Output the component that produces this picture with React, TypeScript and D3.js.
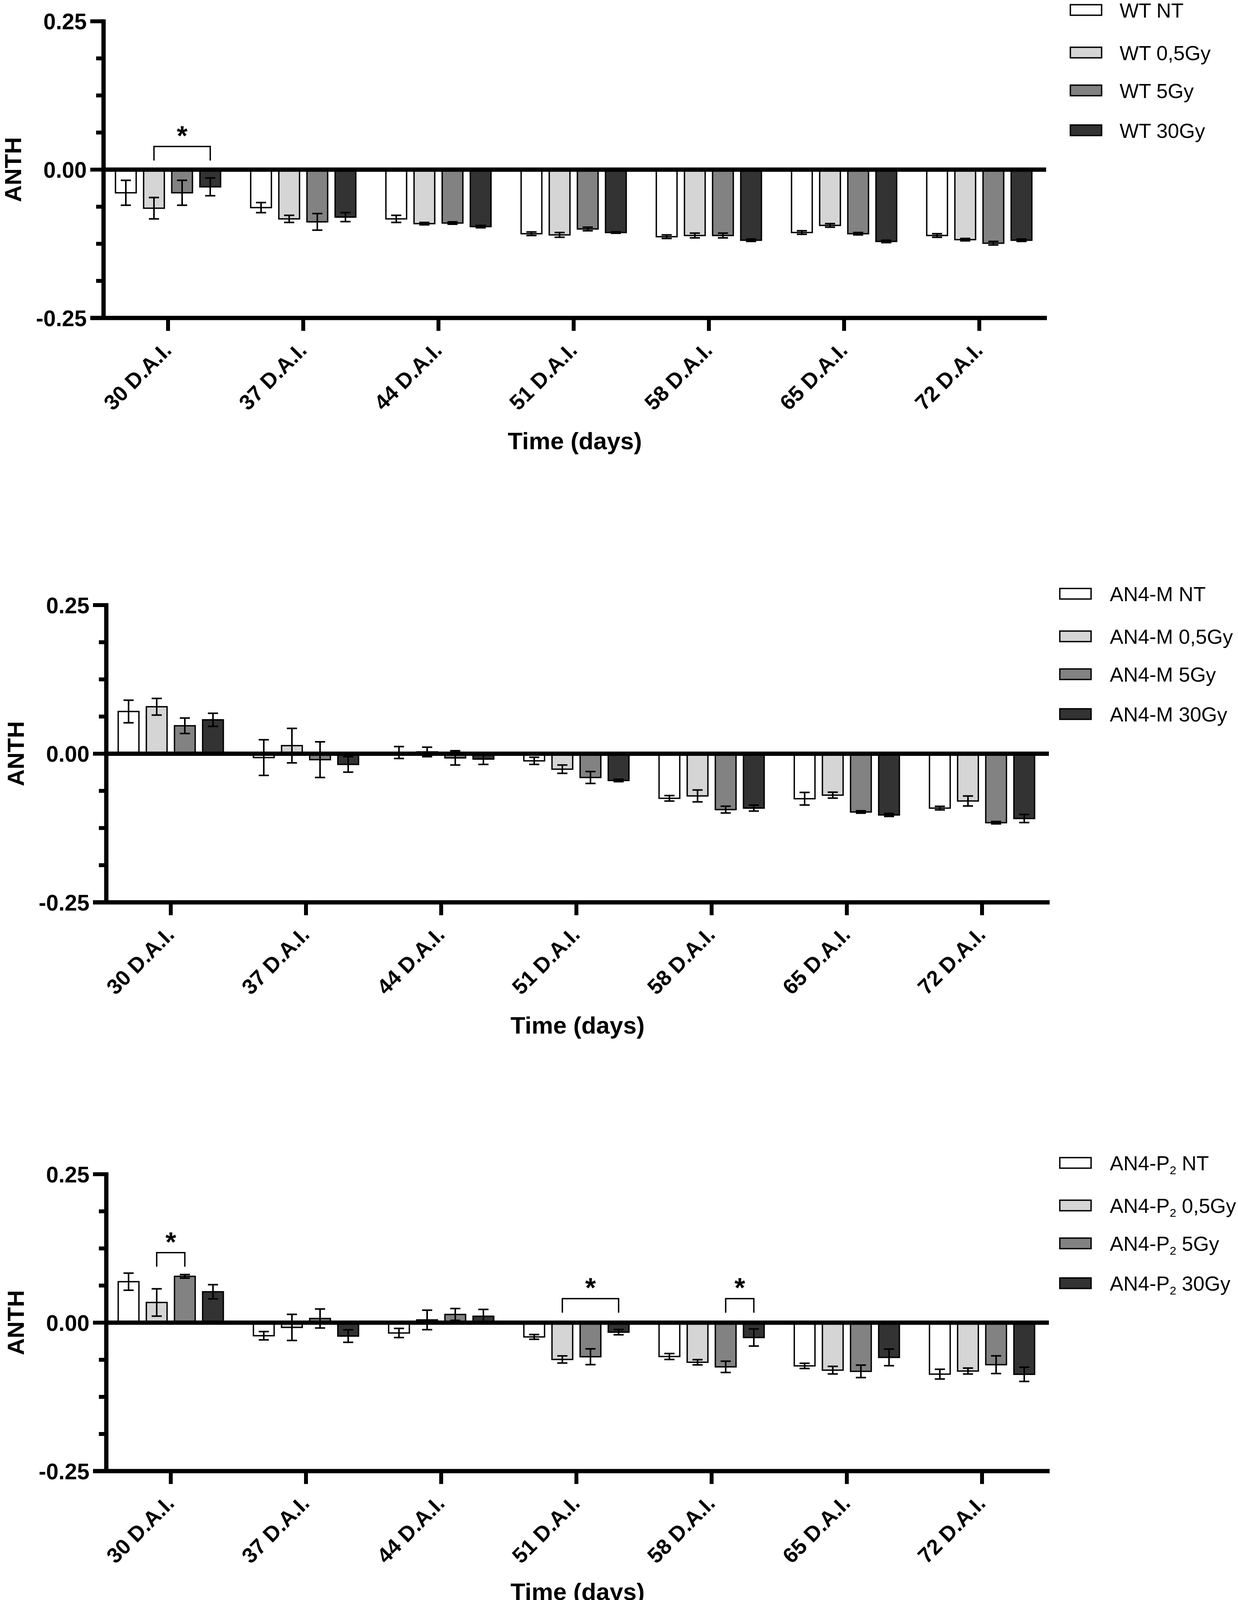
import React from 'react';
import * as d3 from 'd3';

const days = ['30 D.A.I.', '37 D.A.I.', '44 D.A.I.', '51 D.A.I.', '58 D.A.I.', '65 D.A.I.', '72 D.A.I.'];
const doses = ['NT', '0,5Gy', '5Gy', '30Gy'];

// mean ANTH, one row per day, one column per dose
const wtMeans = [
  [-0.039, -0.065, -0.039, -0.029],
  [-0.064, -0.083, -0.088, -0.080],
  [-0.083, -0.091, -0.090, -0.096],
  [-0.108, -0.110, -0.100, -0.106],
  [-0.113, -0.111, -0.111, -0.119],
  [-0.106, -0.094, -0.108, -0.121],
  [-0.111, -0.118, -0.124, -0.119],
];
const wtErrors = [
  [0.021, 0.018, 0.021, 0.015],
  [0.0085, 0.006, 0.014, 0.0076],
  [0.006, 0.002, 0.002, 0.002],
  [0.003, 0.004, 0.003, 0.0012],
  [0.003, 0.004, 0.004, 0.002],
  [0.003, 0.003, 0.002, 0.002],
  [0.003, 0.002, 0.003, 0.002],
];

const an4mMeans = [
  [0.071, 0.079, 0.047, 0.057],
  [-0.0065, 0.0136, -0.010, -0.018],
  [0.002, 0.003, -0.007, -0.009],
  [-0.012, -0.026, -0.040, -0.045],
  [-0.075, -0.071, -0.094, -0.0915],
  [-0.0757, -0.0697, -0.098, -0.103],
  [-0.0915, -0.0795, -0.116, -0.109],
];
const an4mErrors = [
  [0.019, 0.014, 0.013, 0.011],
  [0.030, 0.029, 0.030, 0.013],
  [0.010, 0.008, 0.012, 0.009],
  [0.006, 0.007, 0.010, 0.002],
  [0.0046, 0.010, 0.0057, 0.005],
  [0.0106, 0.005, 0.002, 0.0025],
  [0.003, 0.0084, 0.002, 0.0068],
];

const an4p2Means = [
  [0.069, 0.034, 0.078, 0.052],
  [-0.022, -0.008, 0.007, -0.0226],
  [-0.0174, 0.0046, 0.0138, 0.0108],
  [-0.024, -0.062, -0.0574, -0.016],
  [-0.057, -0.0667, -0.0744, -0.025],
  [-0.0728, -0.080, -0.082, -0.0585],
  [-0.0867, -0.0815, -0.0708, -0.087],
];
const an4p2Errors = [
  [0.0144, 0.023, 0.003, 0.012],
  [0.007, 0.022, 0.016, 0.0105],
  [0.0077, 0.0164, 0.010, 0.0115],
  [0.004, 0.006, 0.0133, 0.0044],
  [0.005, 0.0044, 0.0095, 0.0144],
  [0.0044, 0.0064, 0.0105, 0.014],
  [0.0082, 0.005, 0.0149, 0.012],
];

// significance brackets: day index, dose indices, bracket level
const wtStars = [{ day: 0, from: 1, to: 3, level: 0.039 }];
const an4mStars: { day: number; from: number; to: number; level: number }[] = [];
const an4p2Stars = [
  { day: 0, from: 1, to: 2, level: 0.118 },
  { day: 3, from: 1, to: 3, level: 0.0405 },
  { day: 4, from: 2, to: 3, level: 0.0405 },
];

const yLabelTicks = [-0.25, 0, 0.25];

const fills = ['#ffffff', '#d5d5d5', '#828282', '#333333'];
const FONT = "'Liberation Sans', Arial, Helvetica, sans-serif";
const W = 3168;
const H = 4120;

interface Layout {
  top: number;
  bottom: number;
  dx: number;
  legendX: number;
  textX: number;
}

const layouts: Layout[] = [
  { top: 54.5, bottom: 814, dx: 0, legendX: 2739, textX: 2865 },
  { top: 1549, bottom: 2310, dx: 7, legendX: 2712, textX: 2840 },
  { top: 3006, bottom: 3766, dx: 7, legendX: 2712, textX: 2840 },
];
const legendOffsets = [-29, 80, 177, 279];

interface PanelProps {
  layout: Layout;
  means: number[][];
  errors: number[][];
  stars: { day: number; from: number; to: number; level: number }[];
  genotype: string;
  sub?: string;
}

const Panel: React.FC<PanelProps> = ({ layout, means, errors, stars, genotype, sub }) => {
  const { top, bottom, dx, legendX, textX } = layout;
  const axisX = 265 + dx;
  const rightX = 2677 + dx;

  const y = d3.scaleLinear().domain([-0.25, 0.25]).range([bottom, top]);
  const x0 = d3.scaleBand<string>().domain(days).range([257 + dx, 2679 + dx]);
  const x1 = d3.scaleBand<string>().domain(doses).range([-144, 144]).paddingInner(0.264).paddingOuter(0.132);
  const bw = x1.bandwidth();
  const tickX = (d: number) => (x0(days[d]) as number) + x0.bandwidth() / 2;
  const cx = (d: number, s: number) => tickX(d) + (x1(doses[s]) as number) + bw / 2;
  const fmt = (v: number) => d3.format('.2f')(v).replace('\u2212', '-');
  const minorTicks = d3.range(-0.25, 0.2501, 0.0625);
  const capW = 26;

  return (
    <g fontFamily={FONT}>
      {/* bars */}
      {means.map((row, d) =>
        row.map((v, s) => (
          <rect
            key={`b${d}-${s}`}
            x={cx(d, s) - bw / 2}
            y={Math.min(y(v), y(0))}
            width={bw}
            height={Math.abs(y(v) - y(0))}
            fill={fills[s]}
            stroke="#000"
            strokeWidth={3.5}
          />
        ))
      )}

      {/* error bars */}
      {means.map((row, d) =>
        row.map((v, s) => {
          const e = errors[d][s];
          const c = cx(d, s);
          return (
            <g key={`e${d}-${s}`} stroke="#000" strokeWidth={4}>
              <line x1={c} x2={c} y1={y(v + e)} y2={y(v - e)} />
              <line x1={c - capW / 2} x2={c + capW / 2} y1={y(v + e)} y2={y(v + e)} />
              <line x1={c - capW / 2} x2={c + capW / 2} y1={y(v - e)} y2={y(v - e)} />
            </g>
          );
        })
      )}

      {/* zero line */}
      <line x1={axisX} x2={rightX} y1={y(0)} y2={y(0)} stroke="#000" strokeWidth={11} />

      {/* y axis */}
      <line x1={axisX} x2={axisX} y1={top - 5} y2={bottom + 5} stroke="#000" strokeWidth={11} />
      {minorTicks.map((t) => {
        const major = yLabelTicks.some((m) => Math.abs(m - t) < 1e-6);
        return (
          <line
            key={`yt${t}`}
            x1={axisX - (major ? 34 : 19)}
            x2={axisX}
            y1={y(t)}
            y2={y(t)}
            stroke="#000"
            strokeWidth={10}
          />
        );
      })}
      {yLabelTicks.map((t) => (
        <text
          key={`yl${t}`}
          x={axisX - 43}
          y={y(t)}
          dy="0.36em"
          textAnchor="end"
          fontSize={57}
          fontWeight="bold"
        >
          {fmt(t)}
        </text>
      ))}

      {/* x axis */}
      <line x1={axisX - 34} x2={rightX + 2} y1={bottom} y2={bottom} stroke="#000" strokeWidth={11} />
      {days.map((day, d) => (
        <g key={`xt${d}`}>
          <line x1={tickX(d)} x2={tickX(d)} y1={bottom} y2={bottom + 33} stroke="#000" strokeWidth={10} />
          <text
            transform={`translate(${tickX(d) + 12},${bottom + 86}) rotate(-45)`}
            textAnchor="end"
            fontSize={55}
            fontWeight="bold"
          >
            {day}
          </text>
        </g>
      ))}

      {/* axis titles */}
      <text
        x={(axisX + rightX) / 2}
        y={Math.min(bottom + 336, H - 24)}
        textAnchor="middle"
        fontSize={62}
        fontWeight="bold"
      >
        Time (days)
      </text>
      <text
        transform={`translate(${54 + dx},${y(0)}) rotate(-90)`}
        textAnchor="middle"
        fontSize={60}
        fontWeight="bold"
      >
        ANTH
      </text>

      {/* significance */}
      {stars.map((st, i) => {
        const xa = cx(st.day, st.from);
        const xb = cx(st.day, st.to);
        const yt = y(st.level);
        return (
          <g key={`s${i}`}>
            <path
              d={`M${xa},${yt + 36}V${yt}H${xb}V${yt + 36}`}
              fill="none"
              stroke="#000"
              strokeWidth={3.5}
            />
            <text x={(xa + xb) / 2} y={yt - 3} textAnchor="middle" fontSize={70} fontWeight="bold">
              *
            </text>
          </g>
        );
      })}

      {/* legend */}
      {doses.map((dose, s) => {
        const yc = top + legendOffsets[s];
        return (
          <g key={`l${s}`}>
            <rect x={legendX} y={yc - 13.5} width={80} height={27} fill={fills[s]} stroke="#000" strokeWidth={3.5} />
            <text x={textX} y={yc + 19} fontSize={52}>
              <tspan>{genotype}</tspan>
              {sub && (
                <tspan dy={10} fontSize={30}>
                  {sub}
                </tspan>
              )}
              <tspan dy={sub ? -10 : 0}>{` ${dose}`}</tspan>
            </text>
          </g>
        );
      })}
    </g>
  );
};

export default function App() {
  return (
    <div style={{ position: 'absolute', left: 0, top: 0 }}>
      <svg width={W} height={H} viewBox={`0 0 ${W} ${H}`} style={{ display: 'block', background: '#fff' }}>
        <rect width={W} height={H} fill="#fff" />
        <Panel layout={layouts[0]} means={wtMeans} errors={wtErrors} stars={wtStars} genotype="WT" />
        <Panel layout={layouts[1]} means={an4mMeans} errors={an4mErrors} stars={an4mStars} genotype="AN4-M" />
        <Panel layout={layouts[2]} means={an4p2Means} errors={an4p2Errors} stars={an4p2Stars} genotype="AN4-P" sub="2" />
      </svg>
    </div>
  );
}
